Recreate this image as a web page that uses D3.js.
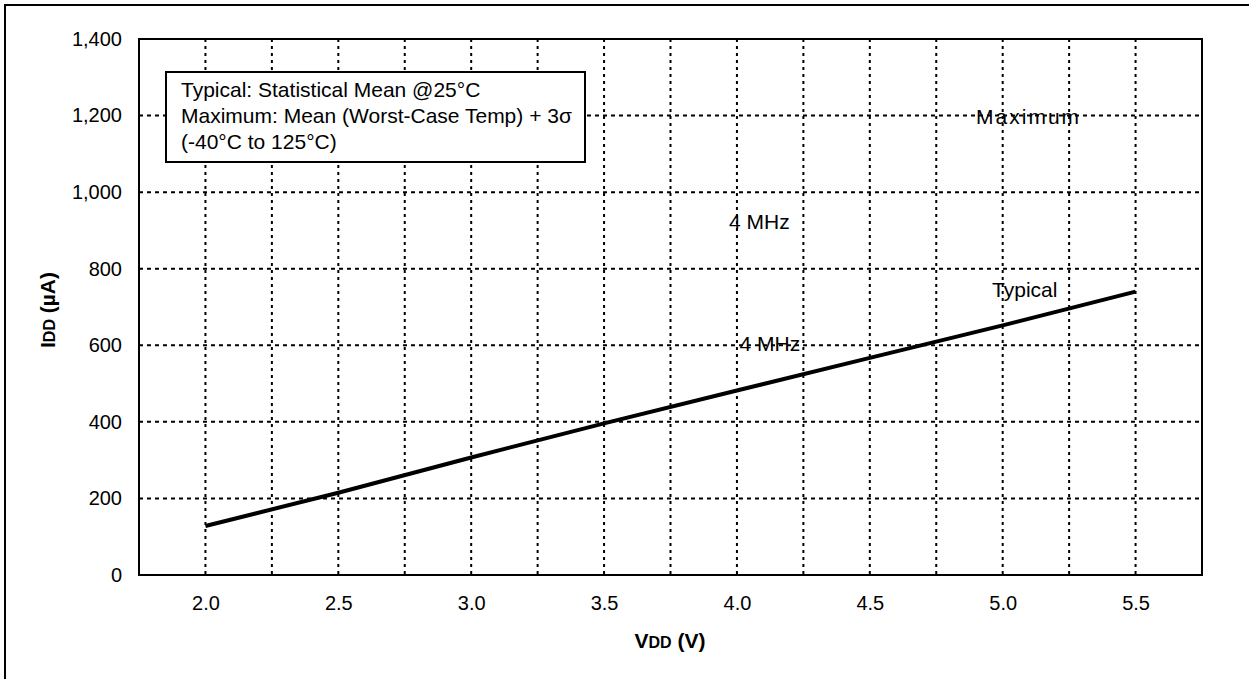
<!doctype html>
<html>
<head>
    <meta http-equiv="Content-type" content="text/html; charset=utf-8"/>
    <script src="https://d3js.org/d3.v7.min.js"></script>
    <style>
        body { margin: 0; background: #fff; }
        svg text { font-family: "Liberation Sans", Arial, sans-serif; fill: #000; }
    </style>
</head>
<body>
    <svg width="1249" height="679"></svg>

    <script>
        // data
        var vdd = [2.0, 2.5, 3.0, 3.5, 4.0, 4.5, 5.0, 5.5];
        var typical = [128, 215, 307, 396, 482, 567, 652, 740];
        var xTicks = [2.0, 2.5, 3.0, 3.5, 4.0, 4.5, 5.0, 5.5];
        var xGrid = [2.0, 2.25, 2.5, 2.75, 3.0, 3.25, 3.5, 3.75, 4.0, 4.25, 4.5, 4.75, 5.0, 5.25, 5.5];
        var yTicks = [0, 200, 400, 600, 800, 1000, 1200, 1400];
        var notes = ["Typical: Statistical Mean @25\u00B0C",
                     "Maximum: Mean (Worst-Case Temp) + 3\u03C3",
                     "(-40\u00B0C to 125\u00B0C)"];

        var svg = d3.select("svg");
        var pLeft = 139, pTop = 39, pRight = 1202, pBottom = 575;

        var x = d3.scaleLinear().domain([1.75, 5.75]).range([pLeft, pRight]);
        var y = d3.scaleLinear().domain([0, 1400]).range([pBottom, pTop]);

        // outer frame (top and left only visible)
        svg.append("path")
            .attr("d", "M5,679 L5,5 L1249,5")
            .attr("fill", "none").attr("stroke", "#000").attr("stroke-width", 2);

        // grid
        svg.append("g").selectAll("line")
            .data(yTicks.filter(function(d) { return d > 0 && d < 1400; }))
            .enter().append("line")
            .attr("x1", pLeft).attr("x2", pRight)
            .attr("y1", function(d) { return y(d); })
            .attr("y2", function(d) { return y(d); })
            .attr("stroke", "#000").attr("stroke-width", 2)
            .attr("stroke-dasharray", "4,4");

        svg.append("g").selectAll("line")
            .data(xGrid)
            .enter().append("line")
            .attr("x1", function(d) { return x(d); })
            .attr("x2", function(d) { return x(d); })
            .attr("y1", pTop).attr("y2", pBottom)
            .attr("stroke", "#000").attr("stroke-width", 2)
            .attr("stroke-dasharray", "3,4");

        // plot frame
        svg.append("rect")
            .attr("x", pLeft).attr("y", pTop)
            .attr("width", pRight - pLeft).attr("height", pBottom - pTop)
            .attr("fill", "none").attr("stroke", "#000").attr("stroke-width", 2);

        // axes (labels only)
        var yAxis = d3.axisLeft(y).tickValues(yTicks).tickSize(0).tickPadding(17)
            .tickFormat(d3.format(","));
        var gy = svg.append("g").attr("transform", "translate(" + pLeft + ",0)").call(yAxis);
        gy.select(".domain").remove();
        gy.selectAll("text").attr("font-family", null).style("font-size", "20px");

        var xAxis = d3.axisBottom(x).tickValues(xTicks).tickSize(0).tickPadding(21)
            .tickFormat(d3.format(".1f"));
        var gx = svg.append("g").attr("transform", "translate(0," + pBottom + ")").call(xAxis);
        gx.select(".domain").remove();
        gx.selectAll("text").attr("font-family", null).style("font-size", "20px");

        // typical line
        var line = d3.line()
            .x(function(d, i) { return x(vdd[i]); })
            .y(function(d) { return y(d); });
        svg.append("path")
            .datum(typical)
            .attr("d", line)
            .attr("fill", "none").attr("stroke", "#000").attr("stroke-width", 4);

        // labels inside the plot
        function label(tx, ty, s, sp) {
            svg.append("text").attr("x", tx).attr("y", ty)
                .style("font-size", "21px").style("letter-spacing", (sp || 0) + "px")
                .text(s);
        }
        label(x(4.9), y(1200) + 8, "Maximum", 2);
        label(x(3.97), y(925) + 8, "4 MHz");
        label(x(4.96), y(748) + 8, "Typical");
        label(x(4.01), y(605) + 8, "4 MHz");

        // note box
        var box = svg.append("g");
        box.append("rect")
            .attr("x", 166).attr("y", 72).attr("width", 419).attr("height", 90)
            .attr("fill", "#fff").attr("stroke", "#000").attr("stroke-width", 2);
        box.selectAll("text").data(notes).enter().append("text")
            .attr("x", 181)
            .attr("y", function(d, i) { return 97 + i * 26; })
            .style("font-size", "21px")
            .text(function(d) { return d; });

        // axis titles
        var xt = svg.append("text")
            .attr("x", 670).attr("y", 648).attr("text-anchor", "middle")
            .style("font-size", "21px").style("font-weight", "bold");
        xt.append("tspan").text("V");
        xt.append("tspan").style("font-size", "16px").text("DD");
        xt.append("tspan").text(" (V)");

        var yt = svg.append("text")
            .attr("transform", "translate(55,310) rotate(-90)")
            .attr("text-anchor", "middle")
            .style("font-size", "21px").style("font-weight", "bold");
        yt.append("tspan").text("I");
        yt.append("tspan").style("font-size", "16px").text("DD");
        yt.append("tspan").text(" (\u00B5A)");
    </script>
</body>
</html>
